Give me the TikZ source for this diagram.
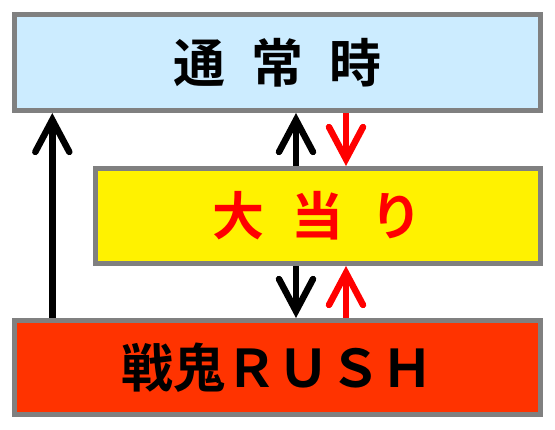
\documentclass[tikz,border=0pt]{standalone}
\usepackage{fontspec}
\newfontfamily\jpfont{Noto Sans CJK JP Bold}
\usetikzlibrary{arrows.meta}
\definecolor{boxgray}{RGB}{128,128,128}
\definecolor{normalblue}{RGB}{204,236,255}
\definecolor{rushred}{RGB}{255,51,0}
\begin{document}
\begin{tikzpicture}[x=1pt,y=-1pt,
  statebox/.style={draw=boxgray,line width=5pt,inner sep=0pt,font=\jpfont\fontsize{52}{52}\selectfont},
  blkarrow/.style={line width=6.5pt,black,-{Straight Barb[length=32pt,width=34pt,line cap=round]}},
  redarrow/.style={line width=6.5pt,red,-{Straight Barb[length=32pt,width=34pt,line cap=round]}}]
\useasboundingbox (0,0) rectangle (555,430);
% States
\node[statebox,fill=normalblue,minimum width=526pt,minimum height=96pt] (normal) at (277.5,62.5)
  {通\hspace{26pt}常\hspace{26pt}時};
\node[statebox,fill=yellow,text=red,minimum width=445.5pt,minimum height=95pt] (jackpot) at (317.75,216)
  {大\hspace{27pt}当\hspace{27pt}り};
\node[statebox,fill=rushred,minimum width=526pt,minimum height=94pt] (rush) at (277.5,367.5)
  {戦鬼ＲＵＳＨ};
% Arrow columns
\coordinate (lx) at (52.3,0);
\coordinate (bx) at (296,0);
\coordinate (rx) at (346,0);
% Transitions
\draw[blkarrow] (rush.north -| lx) -- (normal.south -| lx);
\draw[blkarrow] (jackpot.north -| bx) -- (normal.south -| bx);
\draw[blkarrow] (jackpot.south -| bx) -- (rush.north -| bx);
\draw[redarrow] (normal.south -| rx) -- (jackpot.north -| rx);
\draw[redarrow] (rush.north -| rx) -- (jackpot.south -| rx);
\end{tikzpicture}
\end{document}
